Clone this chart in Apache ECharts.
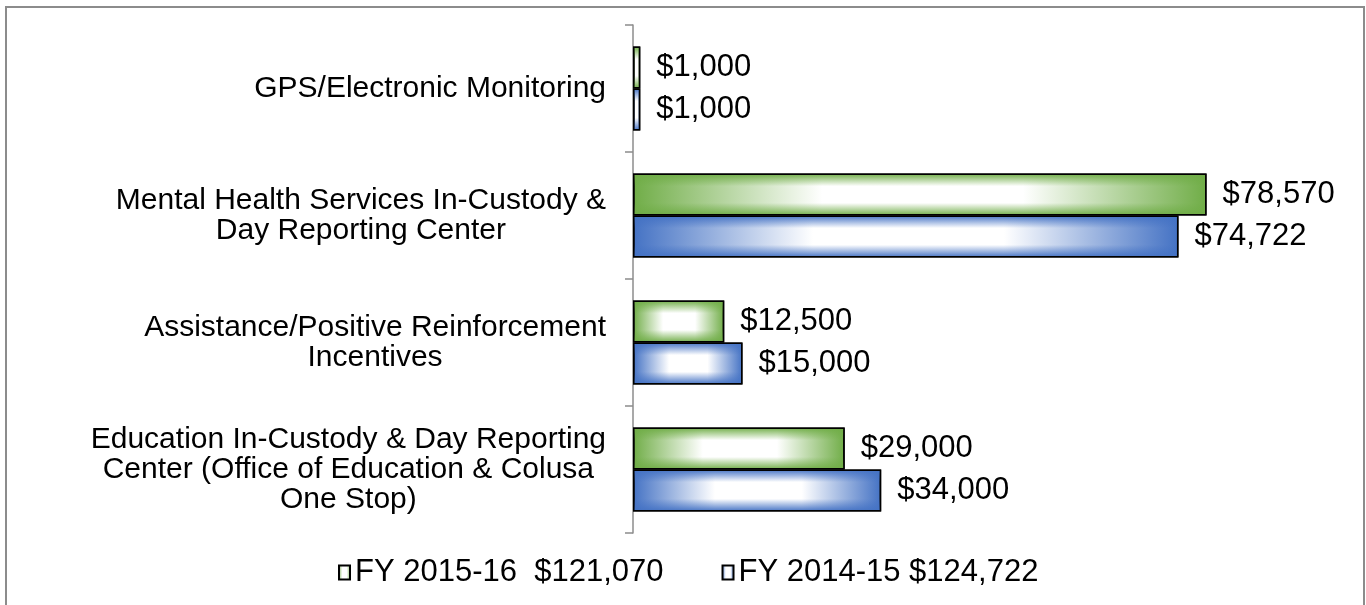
<!DOCTYPE html>
<html>
<head>
<meta charset="utf-8">
<script src="https://cdn.jsdelivr.net/npm/echarts@6/dist/echarts.min.js"></script>
<style>
    html, body { margin: 0; padding: 0; background: #fff; }
    #container { width: 1366px; height: 605px; }
</style>
</head>
<body>
<div id="container"></div>
<script>
// categories, top to bottom
var categories = [
    'GPS/Electronic Monitoring',
    'Mental Health Services In-Custody &\nDay Reporting Center',
    'Assistance/Positive Reinforcement\nIncentives',
    'Education In-Custody & Day Reporting\nCenter (Office of Education & Colusa\nOne Stop)'
];
var fy1516 = [1000, 78570, 12500, 29000];
var fy1415 = [1000, 74722, 15000, 34000];
var seriesLabels = ['FY 2015-16', 'FY 2014-15'];

function money(v) {
    return '$' + Number(v).toLocaleString('en-US');
}
function sum(arr) {
    return arr.reduce(function (a, b) { return a + b; }, 0);
}

var name1516 = seriesLabels[0] + '  ' + money(sum(fy1516));
var name1415 = seriesLabels[1] + ' ' + money(sum(fy1415));

var green = '#70ad47';
var blue = '#4472c4';

// left-right fade: colour at the ends, white in the middle
function sideFade(c) {
    return new echarts.graphic.LinearGradient(0, 0, 1, 0, [
        {offset: 0, color: c},
        {offset: 0.33, color: '#ffffff'},
        {offset: 0.68, color: '#ffffff'},
        {offset: 1, color: c}
    ]);
}
// top-bottom fade, laid over the first one
function edgeFade(c) {
    var t = echarts.color.modifyAlpha(c, 0);
    return new echarts.graphic.LinearGradient(0, 0, 0, 1, [
        {offset: 0, color: c},
        {offset: 0.3, color: t},
        {offset: 0.7, color: t},
        {offset: 1, color: c}
    ]);
}

var font = '"Liberation Sans", Arial, sans-serif';

var dom = document.getElementById('container');
var myChart = echarts.init(dom, null, {renderer: 'canvas'});

var valueLabel = {
    show: true,
    position: 'right',
    distance: 16,
    color: '#000',
    fontFamily: font,
    fontSize: 31,
    formatter: function (p) { return money(p.value); }
};

var option = {
    animation: false,
    backgroundColor: '#ffffff',
    graphic: [{
        type: 'rect',
        shape: {x: 6, y: 7, width: 1358, height: 700},
        style: {fill: 'none', stroke: '#8c8c8c', lineWidth: 2},
        silent: true
    }],
    legend: {
        data: [name1516, name1415],
        left: 333,
        top: 552,
        icon: 'rect',
        itemWidth: 11,
        itemHeight: 14,
        itemGap: 58,
        textStyle: {fontFamily: font, fontSize: 31, color: '#000'}
    },
    grid: {left: 633, right: 76, top: 25, bottom: 72, containLabel: false},
    xAxis: {
        type: 'value',
        min: 0,
        max: 90000,
        show: false
    },
    yAxis: [{
        type: 'category',
        inverse: true,
        data: categories,
        axisLine: {show: true, lineStyle: {color: '#8c8c8c', width: 1.5}},
        axisTick: {show: true, length: 8, lineStyle: {color: '#8c8c8c', width: 1.5}},
        axisLabel: {
            margin: 27,
            color: '#000',
            fontFamily: font,
            fontSize: 30,
            lineHeight: 30,
            formatter: function (v) {
                return v.split('\n').map(function (l) { return '{c|' + l + '}'; }).join('\n');
            },
            rich: {
                c: {align: 'center', fontFamily: font, fontSize: 30, lineHeight: 30, color: '#000'}
            }
        }
    }, {
        type: 'category',
        inverse: true,
        data: categories,
        show: false
    }],
    series: [{
        name: name1516,
        type: 'bar',
        data: fy1516,
        barGap: 0,
        barCategoryGap: '34%',
        itemStyle: {color: sideFade(green), borderColor: '#000', borderWidth: 1.5},
        label: valueLabel
    }, {
        name: name1415,
        type: 'bar',
        data: fy1415,
        barGap: 0,
        barCategoryGap: '34%',
        itemStyle: {color: sideFade(blue), borderColor: '#000', borderWidth: 1.5},
        label: valueLabel
    }, {
        name: name1516,
        type: 'bar',
        yAxisIndex: 1,
        data: fy1516,
        barGap: 0,
        barCategoryGap: '34%',
        silent: true,
        itemStyle: {color: edgeFade(green), borderColor: '#000', borderWidth: 1.5}
    }, {
        name: name1415,
        type: 'bar',
        yAxisIndex: 1,
        data: fy1415,
        barGap: 0,
        barCategoryGap: '34%',
        silent: true,
        itemStyle: {color: edgeFade(blue), borderColor: '#000', borderWidth: 1.5}
    }]
};

myChart.setOption(option);
</script>
</body>
</html>
